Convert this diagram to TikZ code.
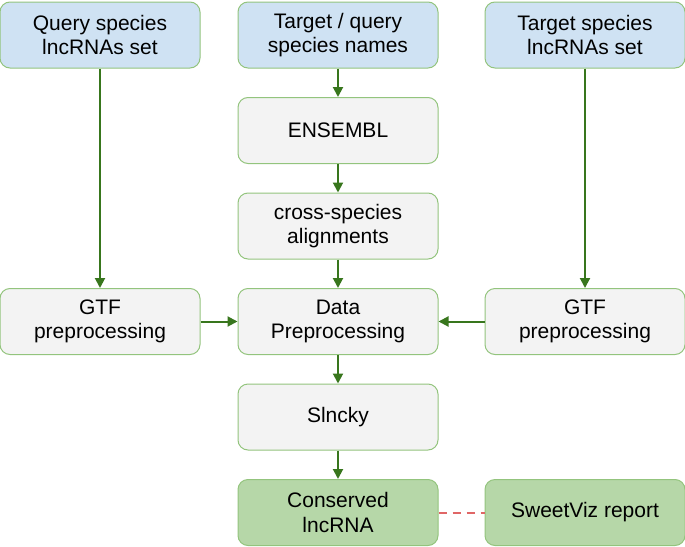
\documentclass[tikz,border=0pt]{standalone}
\usepackage{fontspec}
\setmainfont{Liberation Sans}
\usetikzlibrary{arrows.meta, positioning}
\definecolor{inputblue}{HTML}{CFE2F3}
\definecolor{stepgrey}{HTML}{F3F3F3}
\definecolor{resultgreen}{HTML}{B6D7A8}
\definecolor{boxline}{HTML}{93C47D}
\definecolor{flowgreen}{HTML}{38761D}
\definecolor{linkred}{HTML}{E06666}
\tikzstyle{base_box} = [rectangle, rounded corners=10pt, minimum width=200pt, minimum height=66pt, align=center, draw=boxline, line width=1pt, font=\fontsize{21}{24.5}\selectfont]
\tikzstyle{input_box} = [base_box, fill=inputblue]
\tikzstyle{step_box} = [base_box, fill=stepgrey]
\tikzstyle{result_box} = [base_box, fill=resultgreen]
\tikzstyle{flow_arrow} = [draw=flowgreen, line width=2pt, -{Triangle[length=10pt, width=10pt]}]
\tikzstyle{side_link} = [draw=linkred, line width=2pt, dash pattern=on 8pt off 6pt]

\begin{document}
\begin{tikzpicture}[node distance=28.5pt and 37pt]
\useasboundingbox (0pt,0pt) rectangle (685pt,-546pt);
\node (names) [input_box] at (338pt,-35pt) {Target / query\\species names};
\node (ensembl) [step_box, below=of names] {ENSEMBL};
\node (align) [step_box, below=of ensembl] {cross-species\\alignments};
\node (prep) [step_box, below=of align] {Data\\Preprocessing};
\node (slncky) [step_box, below=of prep] {Slncky};
\node (conserved) [result_box, below=of slncky] {Conserved\\lncRNA};
\node (sweetviz) [result_box, right=46pt of conserved] {SweetViz report};

\node (gtfq) [step_box, left=37pt of prep] {GTF\\preprocessing};
\node (gtft) [step_box, right=46pt of prep] {GTF\\preprocessing};
\node (query) [input_box] at (gtfq |- names) {Query species\\lncRNAs set};
\node (target) [input_box] at (gtft |- names) {Target species\\lncRNAs set};

% Hauptpfad
\draw [flow_arrow] (names) -- (ensembl);
\draw [flow_arrow] (ensembl) -- (align);
\draw [flow_arrow] (align) -- (prep);
\draw [flow_arrow] (prep) -- (slncky);
\draw [flow_arrow] (slncky) -- (conserved);

% Seitenzweige
\draw [flow_arrow] (query) -- (gtfq);
\draw [flow_arrow] (target) -- (gtft);
\draw [flow_arrow] (gtfq) -- (prep);
\draw [flow_arrow] (gtft) -- (prep);
\draw [side_link] (conserved) -- (sweetviz);
\end{tikzpicture}
\end{document}
